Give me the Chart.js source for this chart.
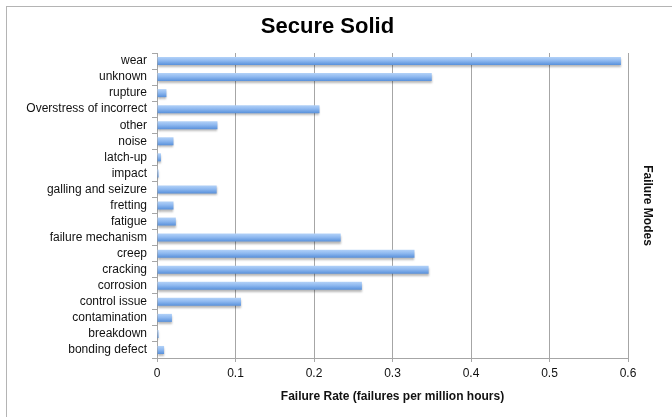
<!DOCTYPE html>
<html>
<head>
<meta charset="utf-8">
<script src="https://cdn.jsdelivr.net/npm/chart.js@4/dist/chart.umd.min.js"></script>
<style>
  html, body { margin: 0; padding: 0; background: #fff; overflow: hidden; }
  #wrap { position: relative; width: 672px; height: 417px; }
  #frame { position: absolute; left: 6px; top: 6px; width: 720px; height: 460px;
           border: 1px solid #b4b4b4; box-sizing: border-box; pointer-events: none; }
  canvas { position: absolute; left: 0; top: 0; }
</style>
</head>
<body>
<div id="wrap">
  <canvas id="chart" width="672" height="417"></canvas>
  <div id="frame"></div>
</div>
<script>
// Failure modes, listed top to bottom
const categories = [
  'wear', 'unknown', 'rupture', 'Overstress of incorrect', 'other', 'noise',
  'latch-up', 'impact', 'galling and seizure', 'fretting', 'fatigue',
  'failure mechanism', 'creep', 'cracking', 'corrosion', 'control issue',
  'contamination', 'breakdown', 'bonding defect'
];

// Failure rate per mode (failures per million hours)
const failureRates = [
  0.591, 0.350, 0.012, 0.207, 0.077, 0.021,
  0.005, 0.002, 0.076, 0.021, 0.024,
  0.234, 0.328, 0.346, 0.261, 0.107,
  0.019, 0.002, 0.009
];

// Horizontal axis range and step
const rateMin = 0;
const rateMax = 0.6;
const rateStep = 0.1;

const chartTitle = 'Secure Solid';
const xTitle = 'Failure Rate (failures per million hours)';
const yTitle = 'Failure Modes';

const FONT = "'Liberation Sans', Arial, Helvetica, sans-serif";
const GRID = '#a6a6a6';

// Glossy blue fill, shaded top to bottom across each bar
function barFill(context) {
  const chart = context.chart;
  const yScale = chart.scales && chart.scales.y;
  if (!chart.chartArea || !yScale || context.dataIndex === undefined) return '#8db4e8';
  const yc = yScale.getPixelForValue(context.dataIndex);
  const half = yScale.height / categories.length * 0.25;
  const g = chart.ctx.createLinearGradient(0, yc - half, 0, yc + half);
  g.addColorStop(0, '#b3d2f8');
  g.addColorStop(0.45, '#8fb9f0');
  g.addColorStop(1, '#5890da');
  return g;
}

// Soft drop shadow under the bars
const barShadow = {
  id: 'barShadow',
  beforeDatasetsDraw(chart) {
    const c = chart.ctx;
    c.save();
    c.shadowColor = 'rgba(0,0,0,0.28)';
    c.shadowBlur = 2;
    c.shadowOffsetX = 0;
    c.shadowOffsetY = 2;
  },
  afterDatasetsDraw(chart) {
    chart.ctx.restore();
  }
};

new Chart(document.getElementById('chart'), {
  type: 'bar',
  data: {
    labels: categories,
    datasets: [{
      data: failureRates,
      backgroundColor: barFill,
      borderWidth: 0,
      categoryPercentage: 1,
      barPercentage: 0.5
    }]
  },
  plugins: [barShadow],
  options: {
    indexAxis: 'y',
    responsive: false,
    animation: false,
    layout: { padding: { left: 0, right: 17, top: 0, bottom: 0 } },
    plugins: {
      legend: { display: false },
      tooltip: { enabled: false },
      title: {
        display: true,
        text: chartTitle,
        color: '#000',
        font: { family: FONT, size: 22, weight: 'bold' },
        padding: { top: 14, bottom: 12.6 }
      }
    },
    scales: {
      x: {
        type: 'linear',
        position: 'bottom',
        min: rateMin,
        max: rateMax,
        ticks: {
          stepSize: rateStep,
          color: '#111',
          font: { family: FONT, size: 12 },
          padding: 4
        },
        grid: {
          color: GRID,
          lineWidth: 1,
          drawTicks: true,
          tickLength: 4,
          tickColor: GRID
        },
        border: { display: true, color: GRID, width: 1 },
        title: {
          display: true,
          text: xTitle,
          color: '#111',
          font: { family: FONT, size: 12, weight: 'bold' },
          padding: { top: 0, bottom: 13 }
        },
        afterFit(scale) { scale.height = 59; }
      },
      y: {
        type: 'category',
        position: 'left',
        offset: true,
        ticks: {
          color: '#111',
          font: { family: FONT, size: 12 },
          padding: 5,
          autoSkip: false
        },
        grid: {
          offset: true,
          drawOnChartArea: false,
          drawTicks: true,
          tickLength: 5,
          tickColor: GRID
        },
        border: { display: true, color: GRID, width: 1 },
        afterFit(scale) { scale.width = 157; }
      },
      y2: {
        type: 'category',
        axis: 'y',
        position: 'right',
        labels: categories,
        offset: true,
        ticks: { display: false },
        grid: { display: false },
        border: { display: false },
        title: {
          display: true,
          text: yTitle,
          color: '#111',
          font: { family: FONT, size: 12, weight: 'bold' },
          padding: { top: 0, bottom: 0 }
        },
        afterFit(scale) { scale.width = 27; }
      }
    }
  }
});
</script>
</body>
</html>
